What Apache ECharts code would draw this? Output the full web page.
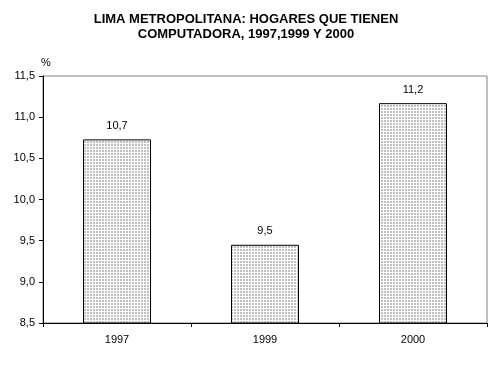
<!DOCTYPE html>
<html>
<head>
<meta charset="utf-8">
<script src="https://cdn.jsdelivr.net/npm/echarts@6/dist/echarts.min.js"></script>
<style>
  html, body { margin: 0; padding: 0; background: #fff; }
  #chart { width: 492px; height: 378px; }
</style>
</head>
<body>
<div id="chart"></div>
<script>
const years = ['1997', '1999', '2000'];
const hogares = [10.73, 9.45, 11.17];
const labels = ['10,7', '9,5', '11,2'];

// dotted gray fill like the original spreadsheet pattern
const tile = document.createElement('canvas');
tile.width = 3;
tile.height = 3;
const ctx = tile.getContext('2d');
ctx.fillStyle = '#ffffff';
ctx.fillRect(0, 0, 3, 3);
ctx.fillStyle = '#c0c0c0';
ctx.fillRect(0, 0, 2, 2);

const chart = echarts.init(document.getElementById('chart'));
const font = 'Liberation Sans, Arial, sans-serif';

chart.setOption({
  animation: false,
  title: {
    text: 'LIMA METROPOLITANA: HOGARES QUE TIENEN\nCOMPUTADORA, 1997,1999 Y 2000',
    left: 'center',
    top: 7,
    textStyle: { fontFamily: font, fontSize: 13, fontWeight: 'bold', color: '#000', lineHeight: 15 }
  },
  grid: { left: 43, right: 5, top: 76, bottom: 55, show: true, borderColor: '#808080', borderWidth: 1 },
  xAxis: {
    type: 'category',
    data: years,
    axisLine: { lineStyle: { color: '#000' } },
    axisTick: { show: true, length: 4, lineStyle: { color: '#000' } },
    axisLabel: { fontFamily: font, fontSize: 11, color: '#000', margin: 11 }
  },
  yAxis: {
    type: 'value',
    min: 8.5,
    max: 11.5,
    interval: 0.5,
    name: '%',
    nameGap: 8,
    nameTextStyle: { fontFamily: font, fontSize: 11, color: '#000', align: 'left', padding: [0, 0, 0, -2] },
    splitLine: { show: false },
    axisLine: { show: true, lineStyle: { color: '#000' } },
    axisTick: { show: true, length: 4, lineStyle: { color: '#000' } },
    axisLabel: {
      fontFamily: font, fontSize: 11, color: '#000', margin: 8,
      formatter: v => v.toFixed(1).replace('.', ',')
    }
  },
  series: [{
    type: 'bar',
    data: hogares,
    barWidth: 68,
    itemStyle: { color: { image: tile, repeat: 'repeat' }, borderColor: '#000', borderWidth: 1 },
    label: {
      show: true,
      position: 'top',
      distance: 8,
      fontFamily: font,
      fontSize: 11,
      color: '#000',
      formatter: p => labels[p.dataIndex]
    }
  }]
});
</script>
</body>
</html>
